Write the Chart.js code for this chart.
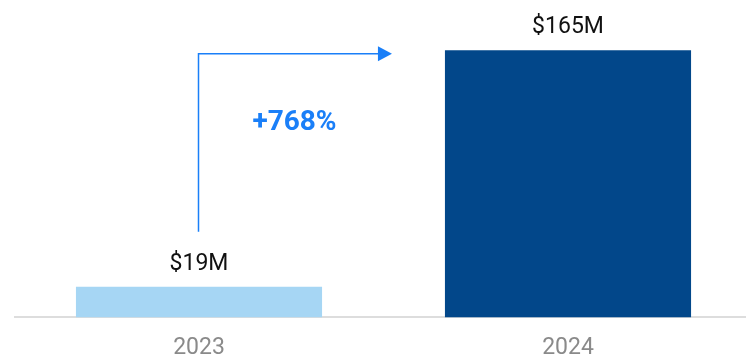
<!DOCTYPE html>
<html>
<head>
<meta charset="utf-8">
<script src="https://cdn.jsdelivr.net/npm/chart.js@4.4.1/dist/chart.umd.min.js"></script>
<style>
  html, body { margin: 0; padding: 0; background: #fff; overflow: hidden; }
  #wrap { position: relative; width: 760px; height: 379px; }
</style>
</head>
<body>
<div id="wrap"><canvas id="c" width="760" height="379"></canvas></div>
<script>
// Revenue by year, in millions of dollars
const years = ['2023', '2024'];
const revenue = [19, 165];
const barColors = ['#a6d6f4', '#02478a'];

const accent = '#1a7ff8';
const font = 'Roboto, "Liberation Sans", sans-serif';

// Value labels above each bar, plus the growth arrow between the bars
const annotations = {
  id: 'annotations',
  afterDatasetsDraw(chart) {
    const ctx = chart.ctx;
    const bars = chart.getDatasetMeta(0).data;
    ctx.save();

    // $xxM labels
    ctx.fillStyle = '#111';
    ctx.font = '23px ' + font;
    ctx.textAlign = 'center';
    ctx.textBaseline = 'alphabetic';
    bars.forEach((bar, i) => {
      ctx.fillText('$' + revenue[i] + 'M', bar.x, bar.y - 17);
    });

    // elbow arrow from the first bar's label to the second bar
    const b0 = bars[0], b1 = bars[1];
    const startY = b0.y - 55;
    const lineY = b1.y + 3.5;
    const tipX = b1.x - b1.width / 2 - 53;
    const x0 = Math.round(b0.x) - 0.5;
    ctx.strokeStyle = accent;
    ctx.lineWidth = 1.5;
    ctx.beginPath();
    ctx.moveTo(x0, startY);
    ctx.lineTo(x0, lineY);
    ctx.lineTo(tipX - 13, lineY);
    ctx.stroke();
    ctx.fillStyle = accent;
    ctx.beginPath();
    ctx.moveTo(tipX, lineY);
    ctx.lineTo(tipX - 14, lineY - 7.5);
    ctx.lineTo(tipX - 14, lineY + 7.5);
    ctx.closePath();
    ctx.fill();

    // growth percentage
    const growth = Math.round((revenue[1] / revenue[0] - 1) * 100);
    ctx.font = 'bold 28px ' + font;
    ctx.textAlign = 'center';
    ctx.fillText('+' + growth + '%', (b0.x + tipX) / 2 - 1, lineY + 76);

    ctx.restore();
  }
};

new Chart(document.getElementById('c'), {
  type: 'bar',
  data: {
    labels: years,
    datasets: [{
      data: revenue,
      backgroundColor: barColors,
      borderWidth: 0,
      barPercentage: 0.667,
      categoryPercentage: 1
    }]
  },
  options: {
    responsive: false,
    animation: false,
    layout: { padding: { left: 14.5, right: 7.5, top: 0, bottom: 0 } },
    plugins: { legend: { display: false }, tooltip: { enabled: false } },
    scales: {
      x: {
        grid: { display: false, drawTicks: false },
        border: { display: true, color: '#dddddd', width: 2 },
        ticks: { color: '#8a8a8a', font: { family: font, size: 23 }, padding: 17 }
      },
      y: {
        display: false,
        min: 0,
        max: 196
      }
    }
  },
  plugins: [annotations]
});
</script>
</body>
</html>
